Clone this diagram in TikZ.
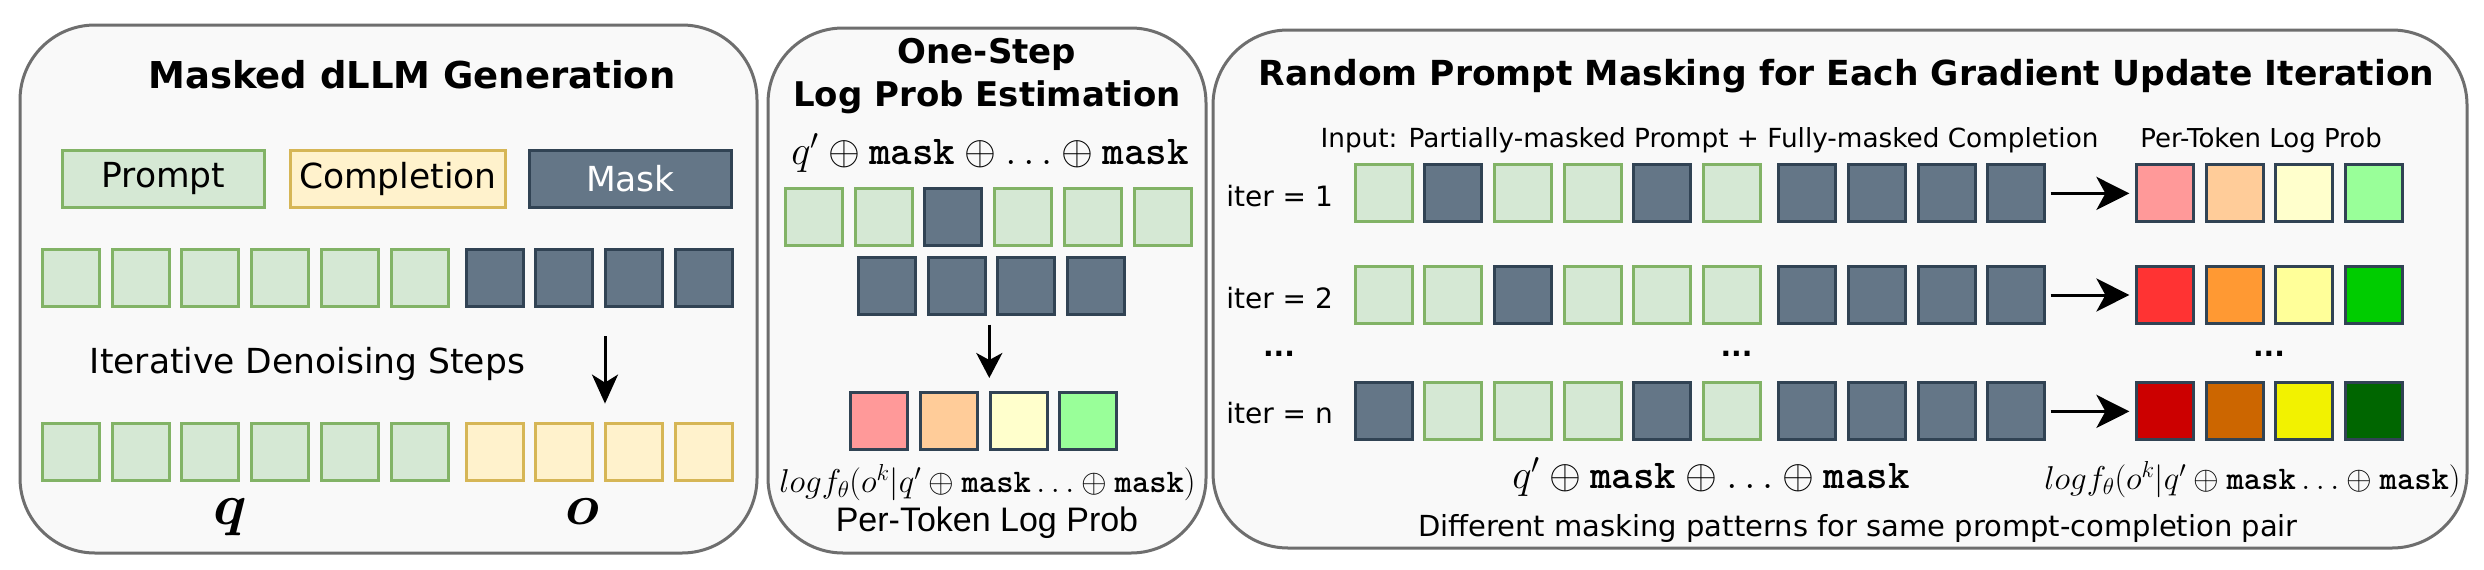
\RequirePackage{fix-cm}
\documentclass[tikz,border=0pt]{standalone}
\usepackage{amsmath}
\usepackage{fontspec}
\setmainfont{DejaVu Sans}
\newfontfamily\arialf{Liberation Sans}
\usetikzlibrary{arrows.meta}
\definecolor{panelbg}{HTML}{F9F9F9}
\definecolor{panelbd}{HTML}{6E6E6E}
\definecolor{prfill}{HTML}{D5E8D4}
\definecolor{prbd}{HTML}{82B366}
\definecolor{cpfill}{HTML}{FFF2CC}
\definecolor{cpbd}{HTML}{D6B656}
\definecolor{mkfill}{HTML}{647687}
\definecolor{mkbd}{HTML}{314354}
\definecolor{oa1}{HTML}{FF9999}
\definecolor{oa2}{HTML}{FFCC99}
\definecolor{oa3}{HTML}{FFFFCC}
\definecolor{oa4}{HTML}{99FF99}
\definecolor{ob1}{HTML}{FF3333}
\definecolor{ob2}{HTML}{FF9933}
\definecolor{ob3}{HTML}{FFFF99}
\definecolor{ob4}{HTML}{00CC00}
\definecolor{oc1}{HTML}{CC0000}
\definecolor{oc2}{HTML}{CC6600}
\definecolor{oc3}{HTML}{F2F200}
\definecolor{oc4}{HTML}{006600}
\newcommand{\mtt}{\text{\ttfamily\bfseries mask}}
\begin{document}
\begin{tikzpicture}[x=1pt,y=-1pt,
  panel/.style={draw=panelbd, line width=3pt, fill=panelbg, rounded corners=75pt},
  tok/.style={minimum width=57pt, minimum height=57pt, inner sep=0pt, outer sep=0pt, line width=3pt},
  pr/.style={tok, draw=prbd, fill=prfill},
  mk/.style={tok, draw=mkbd, fill=mkfill},
  cp/.style={tok, draw=cpbd, fill=cpfill},
  lp/.style={tok, draw=mkbd, fill=#1},
  g/.style={pr}, m/.style={mk},
  lgd/.style={font=\fontsize{34.5}{40}\selectfont},
  arrA/.style={-{Stealth[length=29pt,width=26pt,inset=8pt]}, line width=3pt},
  arrB/.style={-{Stealth[length=25pt,width=26pt,inset=7pt]}, line width=3pt},
  arrC/.style={-{Stealth[length=33pt,width=33pt,inset=9pt]}, line width=3pt},
]
\useasboundingbox (0,0) rectangle (2484,570);
\fill[white] (0,0) rectangle (2484,570);

% ---------- panels
\draw[panel] (20,25) rectangle (757,553);
\draw[panel] (768,28) rectangle (1206,553);
\draw[panel] (1213,30) rectangle (2467,548);

% ---------- panel 1
\node[font=\fontsize{37}{40}\selectfont\bfseries] (t1) at (412,74.5) {Masked dLLM Generation};
\node[pr, minimum width=201.6pt, lgd] (legp) at (163.3,179) {Prompt};
\node[cp, minimum width=214.5pt, lgd] (legc) at (397.8,179) {Completion};
\node[mk, minimum width=202pt, lgd, text=white] (legm) at (630.5,179) {Mask};
\foreach \i in {0,...,5} {
  \node[pr] (a\i) at ({71+69.7*\i},278) {};
  \node[pr] (b\i) at ({71+69.7*\i},452) {};
}
\foreach \j in {0,...,3} {
  \node[mk] (am\j) at ({494.5+69.8*\j},278) {};
  \node[cp] (bc\j) at ({494.5+69.8*\j},452) {};
}
\node[lgd] (ids) at (307.5,364) {Iterative Denoising Steps};
\coordinate (s1) at (605,336);
\coordinate (e1) at (605,403.6);
\draw[arrA] (s1) -- (e1);
\node[font=\fontsize{58}{60}\selectfont, anchor=base] (qq) at (230,524) {$\boldsymbol{q}$};
\node[font=\fontsize{58}{60}\selectfont, anchor=base] (oo) at (582,524) {$\boldsymbol{o}$};

% ---------- panel 2
\node[font=\fontsize{34}{43}\selectfont\bfseries, align=center] (t2) at (987,76.5) {One-Step\\Log Prob Estimation};
\node[font=\fontsize{41}{45}\selectfont] (f2) at (990,153) {$q' \oplus \mtt \oplus \ldots \oplus \mtt$};
\foreach \s [count=\i from 0] in {g,g,m,g,g,g} {
  \node[\s] (c\i) at ({814+69.7*\i},217) {};
}
\foreach \j in {0,...,3} {
  \node[mk] (cm\j) at ({886.7+69.8*\j},286.4) {};
}
\foreach \c [count=\j from 0] in {oa1,oa2,oa3,oa4} {
  \node[lp=\c] (co\j) at ({879.3+69.7*\j},420.5) {};
}
\coordinate (s2) at (989.3,324.7);
\coordinate (e2) at (989.3,378);
\draw[arrB] (s2) -- (e2);
\node[font=\fontsize{33}{36}\selectfont] (lf2) at (987.5,483) {$log f_\theta(o^k|q' \oplus \mtt \ldots \oplus \mtt)$};
\node[font=\fontsize{34}{40}\selectfont\arialf] (pt2) at (987,523) {Per-Token Log Prob};

% ---------- panel 3
\node[font=\fontsize{34.5}{40}\selectfont\bfseries] (t3) at (1846.7,76) {Random Prompt Masking for Each Gradient Update Iteration};
\node[font=\fontsize{26.3}{30}\selectfont] (inp) at (1709.5,140) {Input: Partially-masked Prompt + Fully-masked Completion};
\node[font=\fontsize{26}{30}\selectfont] (ptl) at (2261,140) {Per-Token Log Prob};

\node[font=\fontsize{28}{30}\selectfont] (it1) at (1279.6,196) {iter = 1};
\node[font=\fontsize{28}{30}\selectfont] (it2) at (1279.6,298) {iter = 2};
\node[font=\fontsize{28}{30}\selectfont] (itn) at (1279.6,413) {iter = n};

\foreach \s [count=\i from 0] in {g,m,g,g,m,g} {
  \node[\s] (r1p\i) at ({1383.7+69.6*\i},193.4) {};
}
\foreach \s [count=\i from 0] in {g,g,m,g,g,g} {
  \node[\s] (r2p\i) at ({1383.7+69.6*\i},295) {};
}
\foreach \s [count=\i from 0] in {m,g,g,g,m,g} {
  \node[\s] (r3p\i) at ({1383.7+69.6*\i},411.4) {};
}
\foreach \j in {0,...,3} {
  \node[mk] (r1m\j) at ({1807.3+69.6*\j},193.4) {};
  \node[mk] (r2m\j) at ({1807.3+69.6*\j},295) {};
  \node[mk] (r3m\j) at ({1807.3+69.6*\j},411.4) {};
}
\foreach \c [count=\j from 0] in {oa1,oa2,oa3,oa4} {
  \node[lp=\c] (r1o\j) at ({2164.9+69.7*\j},193.4) {};
}
\foreach \c [count=\j from 0] in {ob1,ob2,ob3,ob4} {
  \node[lp=\c] (r2o\j) at ({2164.9+69.7*\j},295) {};
}
\foreach \c [count=\j from 0] in {oc1,oc2,oc3,oc4} {
  \node[lp=\c] (r3o\j) at ({2164.9+69.7*\j},411.4) {};
}
\draw[arrC, shorten <=6pt, shorten >=7pt] (r1m3.east) -- (r1o0.west);
\draw[arrC, shorten <=6pt, shorten >=7pt] (r2m3.east) -- (r2o0.west);
\draw[arrC, shorten <=6pt, shorten >=7pt] (r3m3.east) -- (r3o0.west);

\node[font=\fontsize{28}{30}\selectfont\bfseries] (d1) at (1279,354) {...};
\node[font=\fontsize{28}{30}\selectfont\bfseries] (d2) at (1736.5,354) {...};
\node[font=\fontsize{28}{30}\selectfont\bfseries] (d3) at (2269,354) {...};

\node[font=\fontsize{41}{45}\selectfont] (f3) at (1711,477) {$q' \oplus \mtt \oplus \ldots \oplus \mtt$};
\node[font=\fontsize{33}{36}\selectfont] (lf3) at (2252.5,480) {$log f_\theta(o^k|q' \oplus \mtt \ldots \oplus \mtt)$};
\node[font=\fontsize{29}{32}\selectfont] (cap3) at (1858,528) {Different masking patterns for same prompt-completion pair};
\end{tikzpicture}
\end{document}
